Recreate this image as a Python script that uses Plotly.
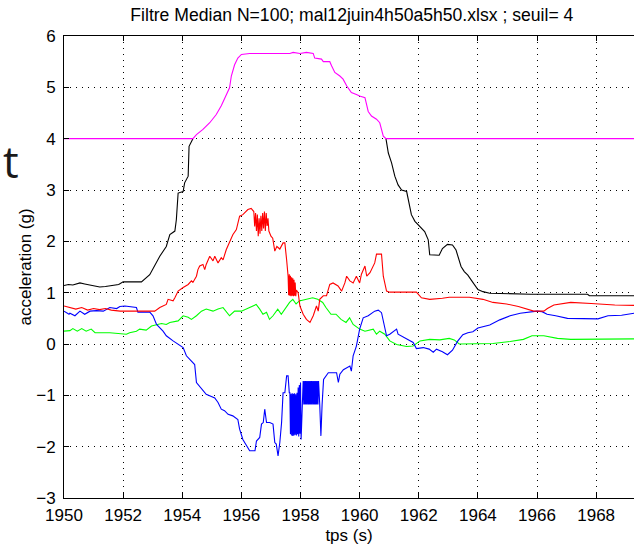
import plotly.graph_objects as go

# ---------------- data ----------------
title_text = "Filtre Median N=100; mal12juin4h50a5h50.xlsx ; seuil= 4"
seuil = 4
x_ticks = [1950, 1952, 1954, 1956, 1958, 1960, 1962, 1964, 1966, 1968]
y_ticks = [-3, -2, -1, 0, 1, 2, 3, 4, 5, 6]

# norm of acceleration (black below the threshold, magenta = max(norm, seuil))
norm_t = [1950.0, 1950.15, 1950.3, 1950.54, 1950.7, 1950.99, 1951.21, 1951.4, 1951.66, 1951.85,
          1952.0, 1952.62, 1952.9, 1953.13, 1953.24, 1953.46, 1953.58, 1953.75, 1953.8, 1953.86,
          1954.03, 1954.08, 1954.2, 1954.23, 1954.36, 1954.48, 1954.7, 1954.93, 1955.15, 1955.32,
          1955.49, 1955.6, 1955.66, 1955.77, 1955.88, 1956.0, 1956.28, 1957.0, 1957.64, 1957.75,
          1957.98, 1958.2, 1958.43, 1958.48, 1958.71, 1958.77, 1958.99, 1959.05, 1959.16, 1959.33,
          1959.44, 1959.56, 1959.72, 1959.89, 1960.0, 1960.18, 1960.29, 1960.4, 1960.57, 1960.68,
          1960.74, 1960.8, 1960.89, 1960.97, 1961.08, 1961.19, 1961.3, 1961.42, 1961.59, 1961.68,
          1961.75, 1961.87, 1962.04, 1962.2, 1962.32, 1962.37, 1962.69, 1962.8, 1962.97, 1963.14,
          1963.26, 1963.37, 1963.43, 1963.54, 1963.66, 1963.77, 1963.89, 1964.0, 1964.17, 1964.4,
          1965.77, 1967.71, 1967.77, 1969.4]
norm_v = [1.14, 1.16, 1.15, 1.19, 1.17, 1.14, 1.11, 1.12, 1.14, 1.16,
          1.21, 1.21, 1.35, 1.58, 1.71, 1.9, 2.13, 2.2, 2.42, 2.94,
          2.97, 3.14, 3.27, 3.85, 4.0, 4.08, 4.18, 4.31, 4.47, 4.64,
          4.86, 4.99, 5.22, 5.44, 5.57, 5.64, 5.66, 5.66, 5.66, 5.68,
          5.66, 5.68, 5.66, 5.57, 5.55, 5.5, 5.5, 5.42, 5.29, 5.22,
          5.16, 5.03, 4.9, 4.86, 4.83, 4.8, 4.53, 4.44, 4.38, 4.31,
          4.18, 4.05, 4.0, 3.72, 3.53, 3.27, 3.1, 3.0, 2.97, 2.68,
          2.52, 2.39, 2.29, 2.19, 2.03, 1.74, 1.73, 1.86, 1.94, 1.93,
          1.83, 1.64, 1.51, 1.41, 1.34, 1.25, 1.15, 1.06, 1.02, 0.99,
          0.97, 0.97, 0.94, 0.94]

red_t = [1950.0, 1950.2, 1950.4, 1950.6, 1950.8, 1951.0, 1951.2, 1951.4, 1951.6, 1951.9,
         1953.07, 1953.24, 1953.46, 1953.52, 1953.69, 1953.75, 1953.86, 1954.03, 1954.2, 1954.31,
         1954.36, 1954.48, 1954.53, 1954.59, 1954.7, 1954.76, 1954.81, 1954.93, 1955.04, 1955.1,
         1955.21, 1955.32, 1955.38, 1955.49, 1955.6, 1955.71, 1955.83, 1955.94, 1956.05, 1956.22,
         1956.33, 1956.42, 1956.45, 1956.48, 1956.51, 1956.54, 1956.57, 1956.6, 1956.63, 1956.66,
         1956.69, 1956.72, 1956.75, 1956.78, 1956.81, 1956.84, 1956.87, 1956.9, 1956.93, 1957.0,
         1957.06, 1957.13, 1957.2, 1957.3, 1957.41, 1957.47, 1957.53, 1957.58, 1957.6, 1957.62,
         1957.64, 1957.66, 1957.68, 1957.7, 1957.72, 1957.74, 1957.76, 1957.78, 1957.8, 1957.82,
         1957.84, 1957.86, 1957.92, 1957.98, 1958.09, 1958.2, 1958.32, 1958.37, 1958.43, 1958.54,
         1958.6, 1958.65, 1958.77, 1958.88, 1958.99, 1959.1, 1959.27, 1959.39, 1959.5, 1959.56,
         1959.67, 1959.78, 1959.89, 1960.0, 1960.06, 1960.18, 1960.24, 1960.35, 1960.51, 1960.57,
         1960.74, 1960.8, 1960.91, 1961.02, 1961.92, 1962.09, 1962.37, 1962.8, 1963.03, 1963.71,
         1964.17, 1964.51, 1964.97, 1965.37, 1965.71, 1965.89, 1966.23, 1966.35, 1966.57, 1967.14,
         1967.83, 1968.63, 1969.4]
red_v = [0.74, 0.71, 0.68, 0.71, 0.66, 0.69, 0.67, 0.69, 0.66, 0.64,
         0.64, 0.71, 0.77, 0.87, 0.84, 0.9, 1.03, 1.1, 1.16, 1.23,
         1.2, 1.32, 1.45, 1.52, 1.55, 1.45, 1.55, 1.71, 1.62, 1.71,
         1.58, 1.68, 1.64, 1.84, 1.97, 2.13, 2.23, 2.49, 2.52, 2.62,
         2.64, 2.58, 2.29, 2.55, 2.2, 2.52, 2.1, 2.45, 2.15, 2.5,
         2.2, 2.55, 2.25, 2.58, 2.2, 2.55, 2.3, 2.45, 2.2, 2.1,
         2.06, 1.81, 1.9, 1.85, 1.97, 1.97, 1.64, 1.32, 0.95, 1.36,
         0.94, 1.33, 0.93, 1.3, 0.94, 1.28, 0.93, 1.25, 0.94, 1.2,
         0.93, 1.05, 1.0, 0.74, 0.58, 0.48, 0.42, 0.48, 0.55, 0.74,
         0.64, 0.87, 0.94, 0.94, 1.16, 1.19, 1.13, 1.03, 1.19, 1.32,
         1.23, 1.19, 1.32, 1.19, 1.36, 1.52, 1.32, 1.39, 1.58, 1.75,
         1.75, 1.32, 1.03, 1.01, 1.01, 0.9, 0.87, 0.89, 0.91, 0.91,
         0.87, 0.81, 0.78, 0.73, 0.68, 0.64, 0.64, 0.69, 0.76, 0.81,
         0.79, 0.76, 0.75]

green_t = [1950.0, 1950.2, 1950.3, 1950.45, 1950.6, 1950.75, 1950.92, 1951.05, 1951.55, 1952.11,
           1952.22, 1952.45, 1952.56, 1952.78, 1952.96, 1953.13, 1953.3, 1953.46, 1953.58, 1953.86,
           1954.03, 1954.2, 1954.31, 1954.48, 1954.65, 1954.81, 1955.04, 1955.21, 1955.38, 1955.6,
           1955.77, 1956.0, 1956.28, 1956.5, 1956.62, 1956.73, 1956.85, 1956.95, 1957.07, 1957.23,
           1957.35, 1957.51, 1957.63, 1957.74, 1957.85, 1957.96, 1958.19, 1958.41, 1958.58, 1958.75,
           1958.86, 1959.03, 1959.2, 1959.37, 1959.54, 1959.66, 1959.78, 1959.93, 1960.0, 1960.18,
           1960.46, 1960.57, 1960.68, 1960.85, 1961.02, 1961.25, 1961.59, 1961.81, 1962.04, 1962.37,
           1962.71, 1963.03, 1963.2, 1963.37, 1963.83, 1964.51, 1965.09, 1965.54, 1965.83, 1966.23,
           1966.69, 1967.14, 1969.4]
green_v = [0.25, 0.26, 0.3, 0.25, 0.3, 0.25, 0.29, 0.22, 0.22, 0.19,
           0.22, 0.25, 0.29, 0.27, 0.35, 0.38, 0.4, 0.38, 0.42, 0.45,
           0.55, 0.52, 0.48, 0.55, 0.64, 0.68, 0.64, 0.68, 0.71, 0.55,
           0.64, 0.64, 0.71, 0.77, 0.68, 0.58, 0.62, 0.48, 0.55, 0.68,
           0.58, 0.71, 0.81, 0.87, 0.78, 0.84, 0.87, 0.9, 0.87, 0.81,
           0.71, 0.58, 0.58, 0.48, 0.42, 0.51, 0.38, 0.32, 0.29, 0.25,
           0.29, 0.19, 0.25, 0.19, 0.06, -0.01, -0.05, -0.04, 0.06, 0.09,
           0.08, 0.11, 0.08, 0.0, 0.0, 0.01, 0.05, 0.09, 0.16, 0.16,
           0.11, 0.09, 0.1]

blue_t = [1950.0, 1950.17, 1950.2, 1950.37, 1950.54, 1950.7, 1950.88, 1951.1, 1951.33, 1951.45,
          1951.55, 1951.78, 1951.89, 1952.06, 1952.45, 1952.5, 1952.9, 1953.01, 1953.13, 1953.35,
          1953.46, 1953.69, 1953.86, 1954.03, 1954.14, 1954.31, 1954.42, 1954.48, 1954.59, 1954.81,
          1955.1, 1955.21, 1955.32, 1955.43, 1955.55, 1955.71, 1955.88, 1955.94, 1956.05, 1956.28,
          1956.46, 1956.51, 1956.62, 1956.68, 1956.74, 1956.79, 1956.85, 1956.96, 1957.07, 1957.13,
          1957.18, 1957.24, 1957.3, 1957.36, 1957.41, 1957.47, 1957.53, 1957.58, 1957.62,
          1957.64, 1957.66, 1957.68, 1957.7, 1957.72, 1957.74, 1957.76, 1957.78, 1957.8, 1957.82,
          1957.84, 1957.86, 1957.88, 1957.9, 1957.92, 1957.94, 1957.96, 1957.98, 1958.0, 1958.02,
          1958.05, 1958.07, 1958.09, 1958.11, 1958.13, 1958.15, 1958.17, 1958.19, 1958.21, 1958.23,
          1958.25, 1958.27, 1958.29, 1958.31, 1958.33, 1958.35, 1958.37, 1958.39, 1958.41, 1958.43,
          1958.45, 1958.47, 1958.49, 1958.51, 1958.53, 1958.55, 1958.57, 1958.59, 1958.61,
          1958.65, 1958.69, 1958.73, 1958.78, 1958.94, 1959.22, 1959.28, 1959.33, 1959.45,
          1959.56, 1959.67, 1959.72, 1959.78, 1959.89, 1960.0, 1960.12, 1960.29, 1960.51, 1960.63,
          1960.74, 1960.85, 1960.91, 1961.02, 1961.1, 1961.25, 1961.3, 1961.59, 1961.81, 1961.92,
          1962.15, 1962.35, 1962.49, 1962.6, 1962.8, 1962.97, 1963.14, 1963.31, 1963.49, 1963.66,
          1963.83, 1964.0, 1964.4, 1964.74, 1965.09, 1965.43, 1965.77, 1966.0, 1966.17, 1966.34,
          1966.63, 1967.03, 1968.06, 1968.4, 1968.86, 1969.4]
blue_v = [0.64, 0.58, 0.6, 0.55, 0.64, 0.58, 0.64, 0.65, 0.64, 0.68,
          0.71, 0.69, 0.73, 0.74, 0.71, 0.62, 0.62, 0.55, 0.38, 0.25,
          0.16, 0.06, -0.01, -0.07, -0.23, -0.33, -0.4, -0.75, -0.82, -0.98,
          -1.05, -1.14, -1.27, -1.3, -1.37, -1.4, -1.47, -1.66, -1.86, -2.08,
          -2.08, -1.89, -1.82, -1.56, -1.53, -1.27, -1.53, -1.53, -1.56, -1.92,
          -1.95, -2.18, -1.92, -1.53, -0.95, -0.95, -0.62, -0.62, -0.95,
          -0.95, -1.76, -0.97, -1.78, -0.96, -1.79, -0.97, -1.78, -0.96, -1.77,
          -0.98, -1.78, -0.95, -1.76, -0.85, -1.8, -0.8, -1.75, -0.75, -1.86,
          -1.14, -0.72, -0.72, -1.18, -0.72, -1.18, -0.72, -1.18, -0.72, -1.18,
          -0.72, -1.18, -0.72, -1.18, -0.72, -1.18, -0.72, -1.18, -0.72, -1.18,
          -0.72, -1.18, -0.72, -1.18, -0.72, -1.18, -0.72, -1.18, -0.72,
          -1.18, -1.79, -1.18, -0.69, -0.56, -0.56, -0.75, -0.59, -0.5,
          -0.46, -0.43, -0.53, -0.23, -0.04, 0.29, 0.51, 0.55, 0.64, 0.66,
          0.61, 0.29, 0.16, 0.19, 0.22, 0.29, 0.19, 0.09, 0.03, -0.09,
          -0.07, -0.1, -0.16, -0.1, -0.15, -0.21, -0.12, 0.05, 0.18, 0.22,
          0.24, 0.31, 0.37, 0.47, 0.55, 0.6, 0.63, 0.64, 0.63, 0.58,
          0.55, 0.5, 0.49, 0.55, 0.56, 0.61]

# ---------------- figure ----------------
black_v = [v if v <= seuil else None for v in norm_v]
magenta_v = [max(v, seuil) for v in norm_v]

FONT = "Liberation Sans, Arial, sans-serif"
fig = go.Figure()
line_w = 1.1
fig.add_trace(go.Scatter(x=green_t, y=green_v, mode="lines", line=dict(color="#00ff00", width=line_w)))
fig.add_trace(go.Scatter(x=blue_t, y=blue_v, mode="lines", line=dict(color="#0000ff", width=line_w)))
fig.add_trace(go.Scatter(x=red_t, y=red_v, mode="lines", line=dict(color="#ff0000", width=line_w)))
fig.add_trace(go.Scatter(x=norm_t, y=black_v, mode="lines", connectgaps=False,
                         line=dict(color="#000000", width=line_w)))
fig.add_trace(go.Scatter(x=norm_t, y=magenta_v, mode="lines", line=dict(color="#ff00ff", width=line_w)))

axis_common = dict(
    showline=True, linecolor="black", linewidth=1,
    ticks="inside", ticklen=5, tickcolor="black", tickwidth=1,
    showgrid=True, gridcolor="black", gridwidth=1, griddash="1px,5px",
    zeroline=False,
    tickfont=dict(family=FONT, size=17, color="black"),
)

fig.update_layout(
    width=634, height=549,
    margin=dict(l=64, r=0, t=36, b=51),
    paper_bgcolor="white", plot_bgcolor="white",
    showlegend=False,
    font=dict(family=FONT, size=17, color="black"),
    title=dict(text=title_text, x=0.505, xref="paper", xanchor="center",
               y=1 - 15 / 549, yref="container", yanchor="middle",
               font=dict(family=FONT, size=17.6, color="black")),
    xaxis=dict(range=[1950, 1969.28], tickvals=x_ticks, mirror="ticks", ticklabelstandoff=2,
               title=dict(text="tps (s)", standoff=4, font=dict(family=FONT, size=17)),
               **axis_common),
    yaxis=dict(range=[-3, 6], tickvals=y_ticks, ticklabelstandoff=4,
               title=dict(text="acceleration (g)", standoff=0, font=dict(family=FONT, size=17)),
               **axis_common),
    annotations=[dict(text="t", xref="paper", yref="paper", x=0, y=(498 - 161) / 462,
                      xshift=-53, xanchor="center", yanchor="middle", showarrow=False,
                      font=dict(family="Open Sans, Liberation Sans, sans-serif", size=44, color="#1a1a1a"))],
)

fig.write_html("out.html")
